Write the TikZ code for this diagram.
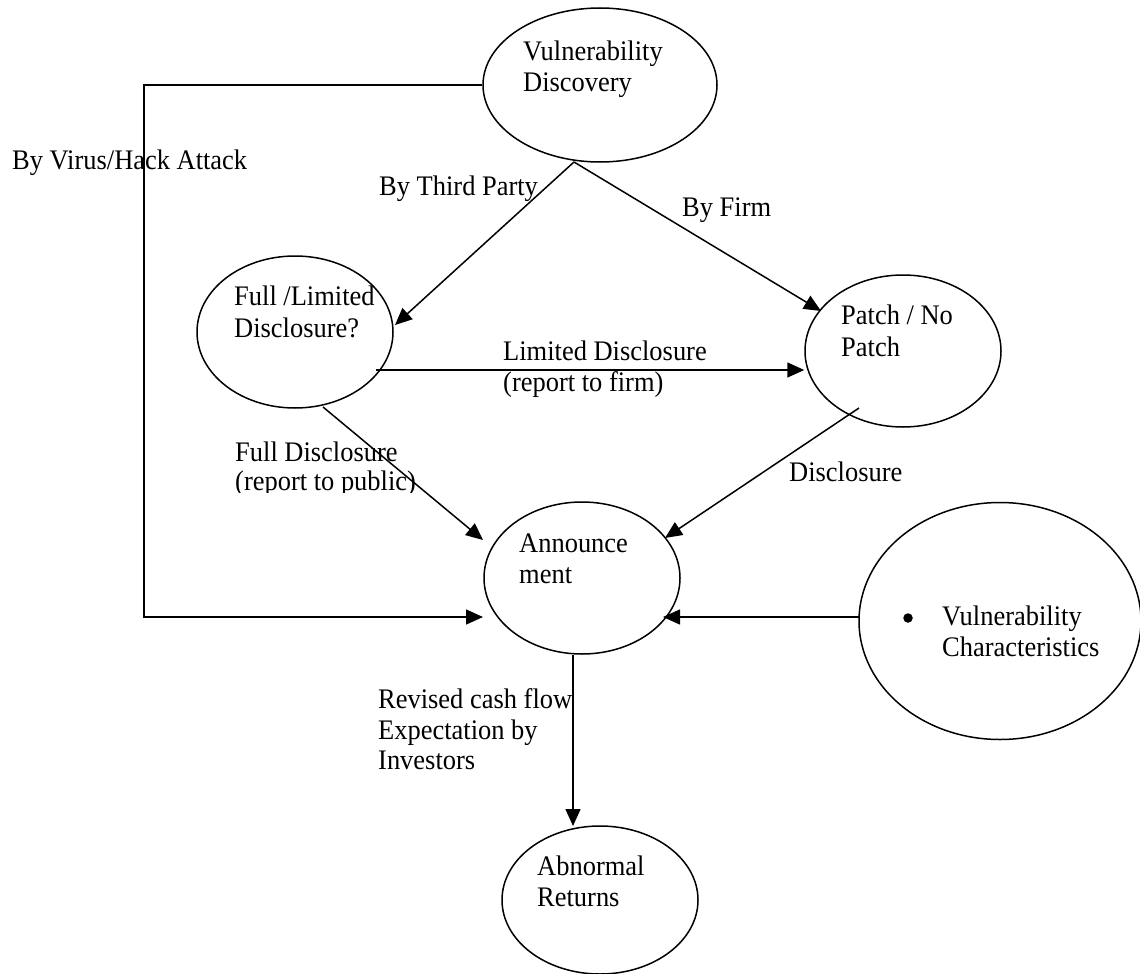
\documentclass[tikz,border=0pt]{standalone}
\usepackage{fontspec}
\setmainfont{Liberation Serif}[FakeStretch=0.935]
\usetikzlibrary{shapes.geometric,arrows.meta,calc}
\begin{document}
\begin{tikzpicture}[x=1pt,y=-1pt,
  ell/.style={ellipse, draw, line width=1.5pt, inner sep=0pt},
  txt/.style={anchor=base west, inner sep=0pt, font=\fontsize{28.3}{31}\selectfont},
  arr/.style={line width=1.5pt, -{Triangle[length=17pt,width=15pt]}},
  ln/.style={line width=1.5pt}]
\useasboundingbox (0,0) rectangle (1140,974);
% ellipses
\node[ell, minimum width=234pt, minimum height=154pt] (vd) at (600,85) {};
\node[ell, minimum width=196pt, minimum height=152pt] (fl) at (295,332) {};
\node[ell, minimum width=196pt, minimum height=152pt] (pt) at (903,351) {};
\node[ell, minimum width=196pt, minimum height=152pt] (an) at (582,578) {};
\node[ell, minimum width=282pt, minimum height=237pt] (vc) at (1000,621) {};
\node[ell, minimum width=196pt, minimum height=148pt] (ar) at (600,900) {};
% texts in ellipses
\node[txt] (vd1) at (523,60) {Vulnerability};
\node[txt] (vd2) at (523,91) {Discovery};
\node[txt] (fl1) at (234,305) {Full /Limited};
\node[txt] (fl2) at (234,337) {Disclosure?};
\node[txt] (pt1) at (841,324) {Patch / No};
\node[txt] (pt2) at (841,356) {Patch};
\node[txt] (an1) at (519,552) {Announce};
\node[txt] (an2) at (519,583) {ment};
\node[circle, fill, inner sep=0pt, minimum size=9.5pt] (vcb) at (908,618) {};
\node[txt] (vc1) at (942,625) {Vulnerability};
\node[txt] (vc2) at (942,656) {Characteristics};
\node[txt] (ar1) at (537,875) {Abnormal};
\node[txt] (ar2) at (537,906) {Returns};
% edge labels
\node[txt] (lv) at (12,169) {By Virus/Hack Attack};
\node[txt] (ltp) at (379,195) {By Third Party};
\node[txt] (lbf) at (682,216) {By Firm};
\node[txt] (lld1) at (503,360) {Limited Disclosure};
\node[txt] (lld2) at (503,391) {(report to firm)};
\node[txt] (lfd1) at (235,461) {Full Disclosure};
\begin{scope}
\clip (0,0) rectangle (1140,492);
\node[txt] (lfd2) at (235,490) {(report to public)};
\end{scope}
\node[txt] (ld) at (789,481) {Disclosure};
\node[txt] (lr1) at (378,708) {Revised cash flow};
\node[txt] (lr2) at (378,739) {Expectation by};
\node[txt] (lr3) at (378,769) {Investors};
% connectors
\coordinate (vds) at ($(vd.center)+(-26,77)$);
\draw[arr] (vds) -- ($(fl.center)+(100,-7)$);
\draw[arr] (vds) -- ($(pt.center)+(-82,-40)$);
\coordinate (corner) at (144,617);
\draw[arr] (vd.west) -| (corner) -- ($(an.center)+(-99,39)$);
\coordinate (ls) at ($(fl.center)+(81,38)$);
\draw[arr] (ls) -- (ls -| pt.west);
\draw[arr] ($(fl.center)+(28,75)$) -- ($(an.center)+(-99,-38)$);
\draw[arr] ($(pt.center)+(-44,57)$) -- ($(an.center)+(83,-40)$);
\draw[arr] ($(vc.center)+(-141,-4)$) -- ($(an.center)+(81,39)$);
\draw[arr] ($(an.center)+(-9,77)$) -- ($(ar.center)+(-27,-74)$);
\end{tikzpicture}
\end{document}
